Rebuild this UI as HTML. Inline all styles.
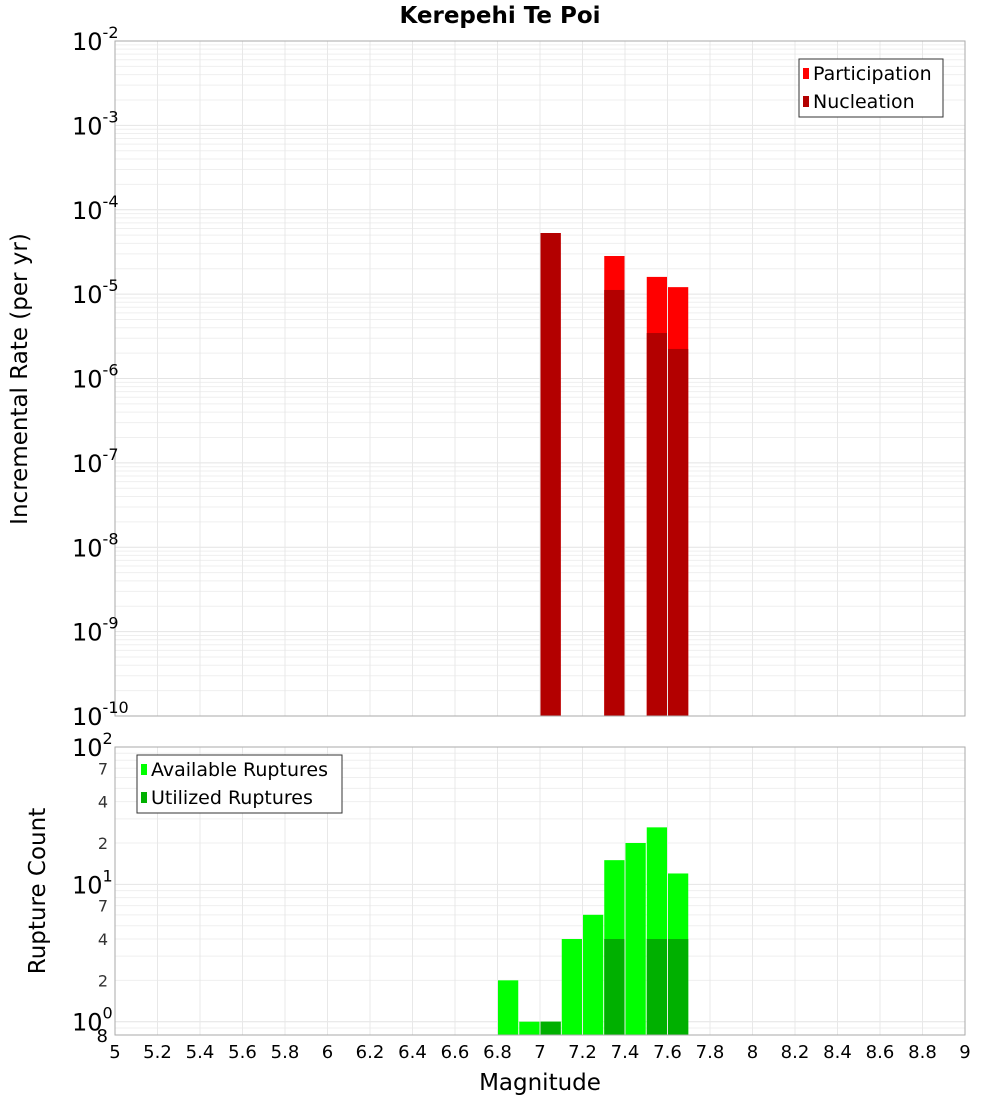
<!DOCTYPE html>
<html><head><meta charset="utf-8"><style>
body{margin:0;background:#fff;font-family:"Liberation Sans","DejaVu Sans",sans-serif;}
svg text{font-family:"DejaVu Sans","Liberation Sans",sans-serif;}
</style></head><body>
<svg id="chart" width="1000" height="1100" xmlns="http://www.w3.org/2000/svg">
<text x="500" y="23" text-anchor="middle" font-size="23" font-weight="bold">Kerepehi Te Poi</text>
<g id="topPlot"></g>
<g id="botPlot"></g>
<text transform="translate(27,379) rotate(-90)" text-anchor="middle" font-size="23">Incremental Rate (per yr)</text>
<text transform="translate(45,891) rotate(-90)" text-anchor="middle" font-size="23">Rupture Count</text>
<text x="540" y="1090" text-anchor="middle" font-size="23">Magnitude</text>
</svg>
<script>
const rateMags=[7.05,7.35,7.55,7.65];
const participation=[5.3e-5,2.83e-5,1.6e-5,1.21e-5];
const nucleation=[5.3e-5,1.12e-5,3.46e-6,2.24e-6];
const countMags=[6.85,6.95,7.05,7.15,7.25,7.35,7.45,7.55,7.65];
const available=[2,1,1,4,6,15,20,26,12];
const utilized=[0,0,1,0,0,4,0,4,4];
const xTicks=[5,5.2,5.4,5.6,5.8,6,6.2,6.4,6.6,6.8,7,7.2,7.4,7.6,7.8,8,8.2,8.4,8.6,8.8,9];
const NS="http://www.w3.org/2000/svg";
const X0=115,X1=965;
const xs=m=>X0+(m-5)/4*(X1-X0);
const T0=41,T1=716;
const yTop=v=>T1-(Math.log10(v)+10)/8*(T1-T0);
const B0=747,B1=1035,bMin=Math.log10(0.8);
const yBot=v=>B1-(Math.log10(v)-bMin)/(2-bMin)*(B1-B0);
function mk(parent,tag,attrs){const e=document.createElementNS(NS,tag);for(const k in attrs)e.setAttribute(k,attrs[k]);parent.appendChild(e);return e;}
const gTop=document.getElementById('topPlot'),gBot=document.getElementById('botPlot');
function grid(g,y0,y1,ylines){
  for(const v of ylines){const l=mk(g,'line',{x1:X0,x2:X1,y1:v.y,y2:v.y,stroke:v.major?'#e4e4e4':'#efefef','stroke-width':1});
  
  }
  for(const t of xTicks){const l=mk(g,'line',{x1:xs(t),x2:xs(t),y1:y0,y2:y1,stroke:'#e8e8e8','stroke-width':1});
  
  }
}
let tl=[];for(let d=-10;d<=-2;d++){for(let k=1;k<10;k++){const v=k*Math.pow(10,d);if(d==-2&&k>1)break;tl.push({y:yTop(v),major:k==1});}}
grid(gTop,T0,T1,tl);
let bl=[];for(let d=-1;d<=2;d++){for(let k=1;k<10;k++){const v=k*Math.pow(10,d);if(v<0.8||v>100)continue;bl.push({y:yBot(v),major:k==1});}}
grid(gBot,B0,B1,bl);
const bw=xs(5.1)-xs(5)-1;
rateMags.forEach((m,i)=>{
  let r=mk(gTop,'rect',{x:xs(m)-bw/2,y:yTop(participation[i]),width:bw,height:T1-yTop(participation[i]),fill:'#ff0000'});
  
  
  r=mk(gTop,'rect',{x:xs(m)-bw/2,y:yTop(nucleation[i]),width:bw,height:T1-yTop(nucleation[i]),fill:'#b30000'});
  
  
});
countMags.forEach((m,i)=>{
  let r=mk(gBot,'rect',{x:xs(m)-bw/2,y:yBot(available[i]),width:bw,height:B1-yBot(available[i]),fill:'#00ff00'});
  
  
  if(utilized[i]>0){r=mk(gBot,'rect',{x:xs(m)-bw/2,y:yBot(utilized[i]),width:bw,height:B1-yBot(utilized[i]),fill:'#00b000'});
  
  }
});
let f=mk(gTop,'rect',{x:X0,y:T0,width:X1-X0,height:T1-T0,fill:'none',stroke:'#aaa'});


f=mk(gBot,'rect',{x:X0,y:B0,width:X1-X0,height:B1-B0,fill:'none',stroke:'#aaa'});


function powLabel(g,y,exp){const t=mk(g,'text',{x:72,y:y+9,'font-size':24});t.textContent='10';
  const s=mk(t,'tspan',{dy:-12,'font-size':16});s.textContent=exp;
  
  }
for(let d=-10;d<=-2;d++)powLabel(gTop,yTop(Math.pow(10,d)),String(d));
[0,1,2].forEach(d=>powLabel(gBot,yBot(Math.pow(10,d)),String(d)));
[[2,'2'],[4,'4'],[7,'7'],[20,'2'],[40,'4'],[70,'7']].forEach(([v,s])=>{const t=mk(gBot,'text',{x:108,y:yBot(v)+6,'text-anchor':'end','font-size':16,fill:'#333'});t.textContent=s;
  
  });
{const t=mk(gBot,'text',{x:108,y:1042,'text-anchor':'end','font-size':18});t.textContent='8';

}
xTicks.forEach(v=>{const t=mk(gBot,'text',{x:xs(v),y:1058,'text-anchor':'middle','font-size':18});t.textContent=String(v);
  
  });
function legend(g,x,y,w,items,name){const lg=mk(g,'g',{});
  
  
  mk(lg,'rect',{x:x,y:y,width:w,height:58,fill:'#fff',stroke:'#333'});
  items.forEach((it,i)=>{const cy=y+14+i*28;mk(lg,'rect',{x:x+4,y:cy-5,width:6,height:11,fill:it[1]});
    const t=mk(lg,'text',{x:x+14,y:cy+7,'font-size':19});t.textContent=it[0];
    
    });}
legend(gTop,799,59,144,[['Participation','#ff0000'],['Nucleation','#b30000']],'rate-legend');
legend(gBot,137,755,205,[['Available Ruptures','#00ff00'],['Utilized Ruptures','#00b000']],'count-legend');
</script>
</body></html>
